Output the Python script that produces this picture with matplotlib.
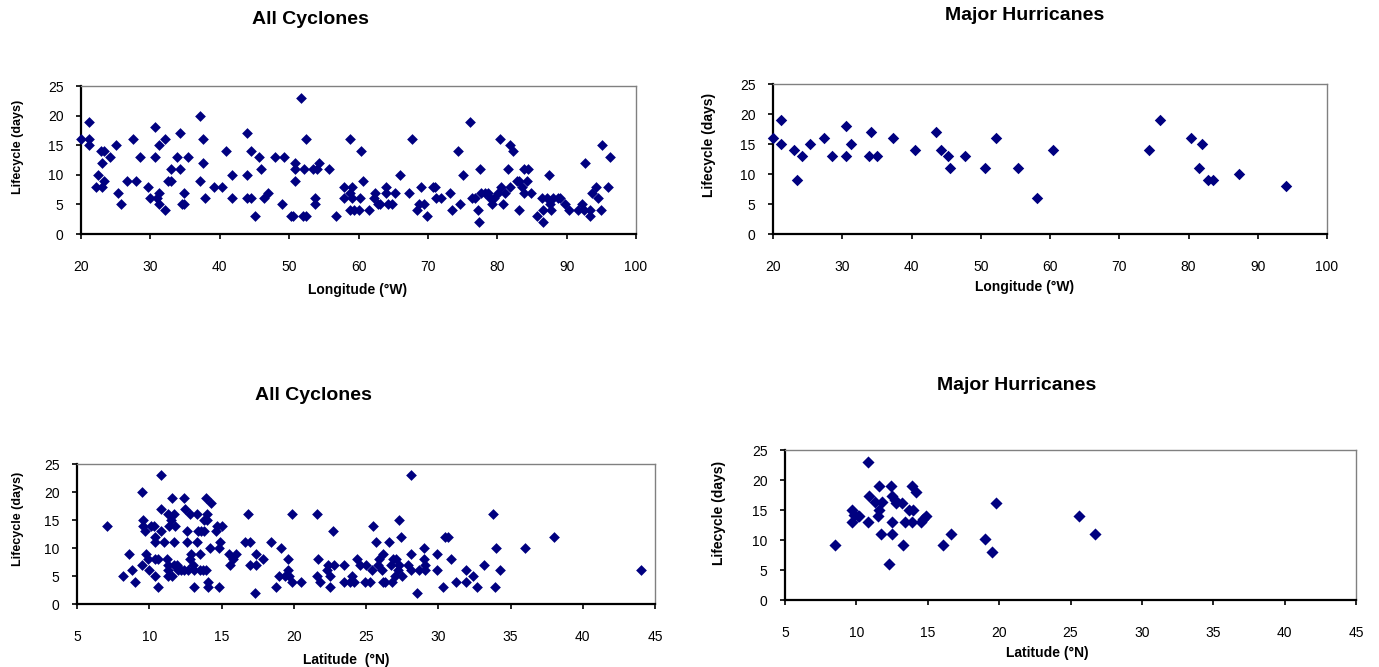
import matplotlib
matplotlib.use('Agg')
import matplotlib.pyplot as plt

plt.rcParams['font.family'] = ['Liberation Sans', 'DejaVu Sans']

# all cyclones, longitude vs lifecycle
lon_all_x = [20, 21.1, 21.1, 21.1, 22.4, 22.2, 23.0, 23.0, 22.9, 23.3, 23.3, 24.2, 25.1, 25.4, 25.8,
             26.6, 27.5, 27.9, 28.5, 29.6, 29.9, 30.7, 30.7, 30.9, 31.3, 31.3, 31.3, 32.1, 32.1, 32.6,
             33.0, 33.0, 33.9, 34.3, 34.3, 34.6, 34.9, 34.9, 35.4, 37.1, 37.1, 37.6, 37.6, 37.9, 39.2,
             40.3, 40.9, 41.8, 41.8, 43.9, 43.9, 43.9, 44.5, 44.5, 45.1, 45.6, 46.0, 46.4, 46.9, 48.0,
             49.0, 49.2, 50.3, 50.6, 50.8, 50.8, 50.8, 51.7, 52.0, 52.4, 52.2, 52.5, 53.5, 53.7, 53.7,
             54.0, 54.3, 55.8, 56.7,
             57.9, 57.9, 58.8, 59.0, 58.8, 59.0, 58.8, 59.4, 60.0, 60.3, 60.2, 60.7, 61.5, 62.4, 62.3,
             62.8, 63.1, 63.9, 63.9, 64.3, 64.9, 65.2, 66.0, 67.3, 67.7, 68.4, 68.7, 69.0, 69.4, 69.9,
             70.7, 71.0, 71.1, 71.9, 73.2, 73.5, 74.3, 74.6, 75.0, 76.0, 76.3, 76.8, 77.2, 77.5, 77.4,
             77.7, 78.2, 78.7, 78.9, 79.3, 79.5, 80.1, 80.4, 80.6, 80.8, 81.1, 81.6, 81.8, 81.9, 82.3,
             82.8, 83.2, 83.2, 83.5, 83.9, 83.9, 84.3, 84.5, 84.8, 85.7, 86.4, 86.6, 86.6, 87.2, 87.4,
             87.6, 87.8, 88.1, 88.7, 89.0, 89.8, 90.3, 91.7, 92.2, 92.5, 92.6, 93.3, 93.4, 93.7, 94.3,
             94.5, 94.9, 95.1, 95.9, 96.2]
lon_all_y = [16, 19, 16, 15, 10, 8, 8, 12, 14, 14, 9, 13, 15, 7, 5,
             9, 16, 9, 13, 8, 6, 18, 13, 6, 7, 5, 15, 16, 4, 9,
             9, 11, 13, 17, 11, 5, 5, 7, 13, 20, 9, 16, 12, 6, 8,
             8, 14, 10, 6, 17, 10, 6, 14, 6, 3, 13, 11, 6, 7, 13,
             5, 13, 3, 3, 12, 11, 9, 23, 3, 3, 11, 16, 11, 6, 5,
             11, 12, 11, 3,
             8, 6, 16, 8, 7, 6, 4, 4, 4, 14, 6, 9, 4, 7, 6,
             5, 5, 8, 7, 5, 5, 7, 10, 7, 16, 4, 5, 8, 5, 3,
             8, 8, 6, 6, 7, 4, 14, 5, 10, 19, 6, 6, 4, 11, 2,
             7, 7, 7, 6, 5, 6, 7, 16, 8, 5, 7, 11, 8, 15, 14,
             9, 9, 4, 8, 11, 7, 9, 11, 7, 3, 6, 2, 4, 6, 10,
             5, 4, 6, 6, 6, 5, 4, 4, 5, 4, 12, 4, 3, 7, 8,
             6, 4, 15, 8, 13]

# major hurricanes, longitude vs lifecycle
lon_major_x = [20, 21.1, 21.1, 23, 23.4, 24.2, 25.3, 27.4, 28.5, 30.6, 30.6, 31.2, 33.9, 34.2, 35,
               37.3, 40.5, 43.5, 44.2, 45.3, 45.6, 47.7, 50.6, 52.2, 55.4, 58.1, 60.5, 74.3, 75.9,
               80.3, 82, 81.5, 82.8, 83.5, 87.3, 94.1]
lon_major_y = [16, 19, 15, 14, 9, 13, 15, 16, 13, 18, 13, 15, 13, 17, 13,
               16, 14, 17, 14, 13, 11, 13, 11, 16, 11, 6, 14, 14, 19,
               16, 15, 11, 9, 9, 10, 8]

# all cyclones, latitude vs lifecycle
lat_all_x = [7.1, 8.2, 8.6, 8.8, 9.0, 9.5, 9.5, 9.6, 9.6, 9.7, 9.8, 9.9, 10.0, 10.1, 10.3,
             10.4, 10.4, 10.4, 10.4, 10.6, 10.6, 10.8, 10.8, 10.8, 11.0, 11.2, 11.3, 11.3, 11.3, 11.3,
             11.4, 11.5, 11.6, 11.6, 11.7, 11.7, 11.7, 11.8, 11.9, 12.0, 12.2, 12.4, 12.4, 12.5, 12.6,
             12.6, 12.7, 12.8, 12.8, 12.9, 13.0, 13.1, 13.1, 13.3, 13.3, 13.4, 13.5, 13.5, 13.6, 13.7,
             13.9, 13.8, 13.8, 13.9, 14.0, 14.0, 14.1, 14.1, 14.2, 14.3, 14.6, 14.7, 14.8, 14.8, 14.9,
             15.0, 15.5, 15.6, 15.8, 16.0, 16.8, 16.6, 17.0, 17.0, 17.3, 17.4, 17.4, 17.9, 18.4, 18.8,
             19.0, 19.1, 19.4, 19.6, 19.6, 19.7, 19.9, 19.9, 20.5, 21.6, 21.6, 21.7, 21.8, 22.3, 22.4,
             22.5, 22.5, 22.7, 22.8,
             23.5, 23.5, 23.9, 24.0, 24.2, 24.4, 24.6, 24.9, 25.0, 25.3, 25.4, 25.5, 25.7, 25.8, 25.9,
             26.1, 26.2, 26.2, 26.3, 26.6, 26.7, 26.8, 26.9, 27.0, 27.1, 27.2, 27.3, 27.3, 27.4, 27.5,
             27.9, 28.1, 28.1, 28.1, 28.5, 28.7, 29.0, 29.0, 29.1, 29.1, 29.9, 29.9, 30.3, 30.5, 30.7,
             30.9, 31.2, 31.9, 31.9, 32.4, 32.7, 33.2, 33.8, 33.9, 34.0, 34.3, 36.0, 38.0, 44.0]
lat_all_y = [14, 5, 9, 6, 4, 20, 7, 15, 14, 13, 9, 8, 6, 14, 14,
             8, 5, 12, 11, 3, 8, 23, 17, 13, 11, 8, 16, 7, 6, 5,
             14, 15, 5, 19, 7, 16, 11, 14, 7, 6, 6, 19, 6, 17, 11,
             13, 6, 8, 16, 9, 7, 6, 3, 16, 11, 13, 9, 6, 13, 6,
             6, 13, 15, 19, 16, 15, 4, 3, 10, 18, 13, 14, 10, 3, 11,
             14, 9, 7, 8, 9, 16, 11, 11, 7, 2, 9, 7, 8, 11, 3,
             5, 10, 5, 8, 6, 5, 4, 16, 4, 16, 5, 8, 4, 6, 7,
             5, 3, 13, 7,
             7, 4, 4, 5, 4, 8, 7, 4, 7, 4, 6, 14, 11, 7, 8,
             6, 9, 4, 4, 11, 7, 4, 8, 5, 8, 6, 7, 15, 12, 5,
             7, 23, 9, 6, 2, 6, 10, 8, 7, 6, 9, 6, 3, 12, 12,
             8, 4, 6, 4, 5, 3, 7, 16, 3, 10, 6, 10, 12, 6]

# major hurricanes, latitude vs lifecycle
lat_major_x = [8.5, 9.7, 9.7, 9.8, 10.1, 10.2, 10.8, 10.8, 10.9, 11.3, 11.5, 11.6, 11.6, 11.7, 11.8,
               12.4, 12.3, 12.5, 12.5, 12.5, 12.7, 12.8, 13.2, 13.3, 13.4, 13.7, 13.9, 13.9, 14.0, 14.2,
               14.5, 14.7, 14.9, 16.1, 16.6, 19.0, 19.5, 19.8, 25.6, 26.7]
lat_major_y = [9.2, 15, 13, 14.2, 14, 14, 23, 13, 17.3, 16.3, 14, 15, 19, 11, 16.3,
               19, 6, 17.3, 13, 11, 16.7, 16.2, 16.2, 9.2, 13, 15, 13, 19, 15, 18,
               13, 13.5, 14, 9.2, 11, 10.2, 8, 16.2, 14, 11]

W, H = 1379, 667
fig = plt.figure(figsize=(W / 100, H / 100), dpi=100)


def add_panel(left, top, right, bottom, x, y, xmin, xmax, xstep, msize=30):
    ax = fig.add_axes([left / W, 1 - bottom / H, (right - left) / W, (bottom - top) / H])
    ax.scatter(x, y, marker='D', s=msize, color='#000080', linewidths=0, zorder=3, clip_on=False)
    ax.set_xlim(xmin, xmax)
    ax.set_ylim(0, 25)
    ax.set_xticks(range(xmin, xmax + 1, xstep))
    ax.set_yticks(range(0, 26, 5))
    for s in ['top', 'right']:
        ax.spines[s].set_color('#808080')
        ax.spines[s].set_linewidth(1)
    for s in ['left', 'bottom']:
        ax.spines[s].set_color('black')
        ax.spines[s].set_linewidth(1.6)
    ax.tick_params(direction='out', length=3.5, width=1.2, labelsize=10, color='black')
    ax.tick_params(axis='x', pad=15)
    ax.tick_params(axis='y', pad=9)
    return ax


def ftext(x, y, s, **kw):
    fig.text(x / W, 1 - y / H, s, ha='center', va='center', fontweight='bold', **kw)


add_panel(81, 86, 636, 234, lon_all_x, lon_all_y, 20, 100, 10)
add_panel(773, 84, 1327, 234, lon_major_x, lon_major_y, 20, 100, 10, msize=34)
add_panel(77, 464, 655, 604, lat_all_x, lat_all_y, 5, 45, 5)
add_panel(785, 450, 1356, 600, lat_major_x, lat_major_y, 5, 45, 5, msize=38)

# titles
ftext(310, 20, 'All Cyclones', fontsize=14)
ftext(1025, 15, 'Major Hurricanes', fontsize=14)
ftext(313, 395, 'All Cyclones', fontsize=14)
ftext(1017, 386, 'Major Hurricanes', fontsize=14)

# axis labels
ftext(358, 290, 'Longitude (°W)', fontsize=10)
ftext(1025, 287, 'Longitude (°W)', fontsize=10)
ftext(346, 660, 'Latitude  (°N)', fontsize=10)
ftext(1047, 653, 'Latitude (°N)', fontsize=10)
ftext(18.5, 147, 'Lifecycle (days)', fontsize=9, rotation=90)
ftext(709, 145, 'Lifecycle (days)', fontsize=10, rotation=90)
ftext(18, 519, 'Lifecycle (days)', fontsize=9, rotation=90)
ftext(719, 513, 'Lifecycle (days)', fontsize=10, rotation=90)

fig.savefig('out.png', dpi=100)
